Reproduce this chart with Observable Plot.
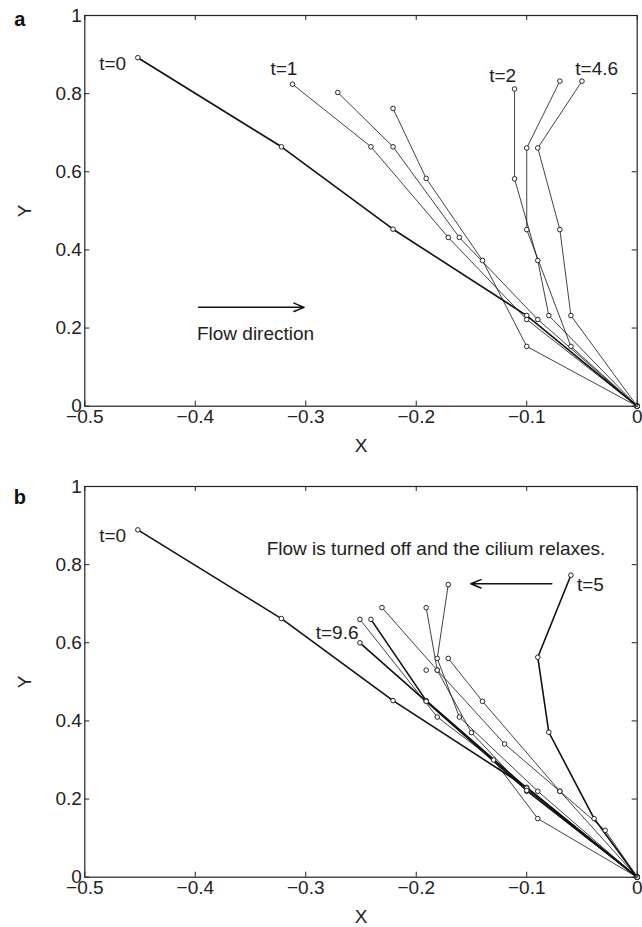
<!DOCTYPE html>
<html><head><meta charset="utf-8">
<script src="https://cdn.jsdelivr.net/npm/d3@7"></script>
<script src="https://cdn.jsdelivr.net/npm/@observablehq/plot@0.6"></script>
<style>body{margin:0;background:#fff} #chart svg{display:block}</style>
</head><body><div id="chart"></div>
<script>
// ---------- axes ----------
const xTicks = [-0.5, -0.4, -0.3, -0.2, -0.1, 0];
const yTicks = [0, 0.2, 0.4, 0.6, 0.8, 1];

// ---------- panel a : cilium shapes while flow is on ----------
const aCurveIds = ["t=0", "t=1", "a2", "a3", "t=2", "a5", "t=4.6"];
const aX = [
  [-0.452, -0.322, -0.221, -0.100, 0],
  [-0.312, -0.241, -0.171, -0.100, 0],
  [-0.271, -0.221, -0.161, -0.090, 0],
  [-0.221, -0.191, -0.140, -0.100, 0],
  [-0.111, -0.111, -0.090, -0.080, 0],
  [-0.070, -0.100, -0.100, -0.060, 0],
  [-0.050, -0.090, -0.070, -0.060, 0]
];
const aY = [
  [0.892, 0.664, 0.453, 0.232, 0],
  [0.824, 0.664, 0.432, 0.222, 0],
  [0.803, 0.664, 0.432, 0.222, 0],
  [0.762, 0.583, 0.373, 0.153, 0],
  [0.812, 0.582, 0.373, 0.232, 0],
  [0.832, 0.661, 0.452, 0.153, 0],
  [0.832, 0.661, 0.452, 0.232, 0]
];
const aThick = ["t=0"];
const aLabelText = ["t=0", "t=1", "t=2", "t=4.6", "Flow direction"];
const aLabelX = [-0.487, -0.332, -0.134, -0.056, -0.3985];
const aLabelY = [0.875, 0.864, 0.846, 0.863, 0.186];
const aLabelAnchor = ["start", "start", "start", "start", "start"];
const aArrowX = [-0.397, -0.3015];
const aArrowY = [0.253, 0.253];

// ---------- panel b : flow turned off, cilium relaxes ----------
const bCurveIds = ["t=0", "t=5", "b2", "b3", "b4", "b5", "b6", "b7", "t=9.6"];
const bX = [
  [-0.452, -0.322, -0.221, -0.100, 0],
  [-0.060, -0.090, -0.080, -0.039, 0],
  [-0.171, -0.181, -0.161, -0.090, 0],
  [-0.191, -0.181, -0.150, -0.100, 0],
  [-0.171, -0.140, -0.070, -0.029, 0],
  [-0.231, -0.181, -0.120, -0.070, 0],
  [-0.251, -0.181, -0.130, -0.090, 0],
  [-0.241, -0.191, -0.100, 0],
  [-0.251, -0.191, -0.100, 0]
];
const bY = [
  [0.889, 0.662, 0.452, 0.230, 0],
  [0.773, 0.563, 0.371, 0.150, 0],
  [0.749, 0.560, 0.410, 0.220, 0],
  [0.690, 0.530, 0.370, 0.220, 0],
  [0.560, 0.450, 0.220, 0.120, 0],
  [0.690, 0.530, 0.341, 0.220, 0],
  [0.660, 0.410, 0.300, 0.150, 0],
  [0.660, 0.452, 0.228, 0],
  [0.600, 0.450, 0.222, 0]
];
const bExtraX = [-0.191]; // lone joint seen on a relaxing shape
const bExtraY = [0.530];
const bThick = ["t=0", "t=5", "t=9.6", "b7"];
const bLabelText = ["t=0", "Flow is turned off and the cilium relaxes.", "t=5", "t=9.6"];
const bLabelX = [-0.487, -0.0288, -0.0545, -0.291];
const bLabelY = [0.873, 0.841, 0.749, 0.625];
const bLabelAnchor = ["start", "end", "start", "start"];
const bArrowX = [-0.0773, -0.1506];
const bArrowY = [0.751, 0.751];

const FONT = "'Liberation Sans', Arial, Helvetica, sans-serif";
const fmtX = d => d === 0 ? "0" : d3.format("")(d);
const fmtY = d => String(d);

function panel({ids, xs, ys, thick, labels, lx, ly, anchors, arrowX, arrowY, letter, height, marginBottom, letterDy, extraX, extraY}) {
  const marginTop = 15, marginLeft = 84.3, marginRight = 5.3, width = 642;
  const H = height - marginTop - marginBottom;
  const W = width - marginLeft - marginRight;
  const pts = ids.flatMap((id, i) => xs[i].map((x, j) => ({id, x, y: ys[i][j]})));
  if (extraX) extraX.forEach((x, i) => pts.push({id: "extra", x, y: extraY[i]}));
  const lab = labels.map((t, i) => ({t, x: lx[i], y: ly[i], a: anchors[i]}));
  const arrow = [{x1: arrowX[0], x2: arrowX[1], y1: arrowY[0], y2: arrowY[1]}];
  const lineThin = pts.filter(p => p.id !== "extra" && !thick.includes(p.id));
  const lineThick = pts.filter(p => thick.includes(p.id));
  return Plot.plot({
    width, height, marginTop, marginBottom, marginLeft, marginRight,
    style: {fontFamily: FONT, fontSize: "19px", color: "#222", background: "white", overflow: "visible"},
    x: {domain: [-0.5, 0]},
    y: {domain: [0, 1]},
    marks: [
      Plot.tickX(xTicks, {x: d => d, insetTop: H - 5, stroke: "#222", strokeWidth: 1}),
      Plot.tickX(xTicks, {x: d => d, insetBottom: H - 5, stroke: "#222", strokeWidth: 1}),
      Plot.tickY(yTicks, {y: d => d, insetRight: W - 5, stroke: "#222", strokeWidth: 1}),
      Plot.tickY(yTicks, {y: d => d, insetLeft: W - 5, stroke: "#222", strokeWidth: 1}),
      Plot.axisX(xTicks, {tickSize: 0, tickPadding: 3, tickFormat: fmtX, label: "X", labelAnchor: "center", labelOffset: 46, labelArrow: false, fontSize: 19}),
      Plot.axisY(yTicks, {tickSize: 0, tickPadding: 3, tickFormat: fmtY, label: "Y", labelAnchor: "center", labelOffset: 67, labelArrow: false, fontSize: 19}),
      Plot.line(lineThin, {x: "x", y: "y", z: "id", stroke: "#111", strokeWidth: 0.8}),
      Plot.line(lineThick, {x: "x", y: "y", z: "id", stroke: "#111", strokeWidth: 1.6}),
      Plot.dot(pts, {x: "x", y: "y", r: 2.3, stroke: "#111", strokeWidth: 0.9, fill: "white"}),
      Plot.text(lab.filter(d => d.a === "start"), {x: "x", y: "y", text: "t", textAnchor: "start", fontSize: 19, fill: "#222", lineAnchor: "middle"}),
      Plot.text(lab.filter(d => d.a === "end"), {x: "x", y: "y", text: "t", textAnchor: "end", fontSize: 19, fill: "#222", lineAnchor: "middle"}),
      Plot.arrow(arrow, {x1: "x1", y1: "y1", x2: "x2", y2: "y2", stroke: "#111", strokeWidth: 1.5, headLength: 11, headAngle: 45}),
      Plot.frame({stroke: "#222", strokeWidth: 1.2}),
      Plot.text([letter], {frameAnchor: "top-left", dx: -65, dy: letterDy, text: d => d, fontWeight: "bold", fontSize: 20, fill: "#111", textAnchor: "middle", lineAnchor: "middle"})
    ]
  });
}

const chart = document.getElementById("chart");
chart.append(panel({ids: aCurveIds, xs: aX, ys: aY, thick: aThick, labels: aLabelText, lx: aLabelX, ly: aLabelY, anchors: aLabelAnchor,
  arrowX: aArrowX, arrowY: aArrowY, letter: "a", height: 471, marginBottom: 65.3, letterDy: 4}));
chart.append(panel({ids: bCurveIds, xs: bX, ys: bY, thick: bThick, labels: bLabelText, lx: bLabelX, ly: bLabelY, anchors: bLabelAnchor,
  arrowX: bArrowX, arrowY: bArrowY, letter: "b", height: 456, marginBottom: 50.3, letterDy: 11, extraX: bExtraX, extraY: bExtraY}));
</script></body></html>
